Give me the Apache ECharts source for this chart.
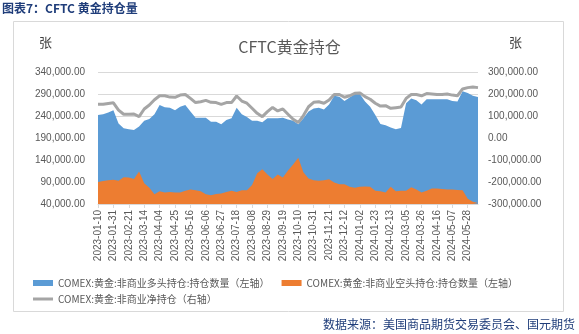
<!DOCTYPE html>
<html>
<head>
<meta charset="utf-8">
<script src="https://cdn.jsdelivr.net/npm/echarts@6/dist/echarts.min.js"></script>
<style>
html,body{margin:0;padding:0;background:#fff;}
#c{width:579px;height:334px;}
</style>
</head>
<body>
<div id="c"></div>
<script>
var dates = [
'2023-01-10','2023-01-17','2023-01-24','2023-01-31','2023-02-07','2023-02-14','2023-02-21','2023-02-28',
'2023-03-07','2023-03-14','2023-03-21','2023-03-28','2023-04-04','2023-04-11','2023-04-18','2023-04-25',
'2023-05-02','2023-05-09','2023-05-16','2023-05-23','2023-05-30','2023-06-06','2023-06-13','2023-06-20',
'2023-06-27','2023-07-04','2023-07-11','2023-07-18','2023-07-25','2023-08-01','2023-08-08','2023-08-15',
'2023-08-22','2023-08-29','2023-09-05','2023-09-12','2023-09-19','2023-09-26','2023-10-03','2023-10-10',
'2023-10-17','2023-10-24','2023-10-31','2023-11-07','2023-11-14','2023-11-21','2023-11-28','2023-12-05',
'2023-12-12','2023-12-19','2023-12-26','2024-01-02','2024-01-09','2024-01-16','2024-01-23','2024-01-30',
'2024-02-06','2024-02-13','2024-02-20','2024-02-27','2024-03-05','2024-03-12','2024-03-19','2024-03-26',
'2024-04-02','2024-04-09','2024-04-16','2024-04-23','2024-04-30','2024-05-07','2024-05-14','2024-05-21',
'2024-05-28','2024-06-04','2024-06-11'];

var longPos = [
242000,244000,248000,253000,223000,212000,210000,208000,216000,229000,
233000,244000,265000,260000,259000,253000,261000,265000,250000,236000,
236000,236000,227000,227000,221000,231000,235000,259000,244000,238000,
229000,229000,226000,235000,235000,235000,236000,232000,229000,221000,
235000,250000,257000,259000,255000,266000,286000,284000,274000,282000,
290000,290000,273000,261000,242000,222000,219000,214000,210000,213000,
269000,280000,276000,266000,278000,278000,278000,278000,278000,274000,
273000,296000,292000,286000,283000];

var shortPos = [
90000,92000,94000,95000,93000,101000,100000,97000,114000,87000,
77000,62000,69000,66000,67000,66000,66000,70000,73000,71000,
69000,62000,60000,63000,64000,67000,70000,67000,71000,71000,
83000,110000,119000,107000,97000,107000,100000,116000,130000,145000,
112000,98000,94000,93000,94000,96000,89000,85000,85000,79000,
77000,79000,80000,79000,70000,69000,66000,79000,69000,70000,
70000,78000,73000,66000,70000,75000,75000,74000,73000,73000,
72000,71000,52000,45000,42000];

var netPos = [
153000,153000,157000,160000,127000,108000,108000,109000,97000,132000,
150000,174000,192000,192000,186000,185000,195000,198000,180000,161000,
165000,171000,162000,161000,153000,161000,161000,191000,168000,158000,
135000,112000,97000,120000,139000,123000,132000,108000,85000,70000,
102000,142000,162000,165000,158000,173000,198000,198000,185000,192000,
203000,205000,188000,176000,158000,145000,147000,135000,138000,141000,
180000,198000,198000,192000,202000,200000,198000,198000,200000,195000,
192000,223000,229000,232000,229000];

var leftTicks = [40000, 340000, 50000];   // min, max, step
var rightTicks = [-300000, 300000, 100000];

var seriesNames = [
'COMEX:黄金:非商业多头持仓:持仓数量（左轴）',
'COMEX:黄金:非商业空头持仓:持仓数量（左轴）',
'COMEX:黄金:非商业净持仓（右轴）'];

function fmt(v){
  var neg = v < 0; v = Math.abs(Math.round(v));
  var s = String(v).replace(/\B(?=(\d{3})+(?!\d))/g, ',');
  return (neg ? '-' : '') + s + '.00';
}

var BASE = leftTicks[0];
var shift = function(arr){ return arr.map(function(v){ return v - BASE; }); };

var chart = echarts.init(document.getElementById('c'), null, {renderer:'canvas'});
var latin = '"Liberation Sans", Arial, "Noto Sans CJK SC", sans-serif';
var cjk = '"Noto Sans CJK SC", "Liberation Sans", sans-serif';

chart.setOption({
  backgroundColor:'#ffffff',
  animation:false,
  title:{
    text:'CFTC黄金持仓',
    left:'center', top:34,
    textStyle:{fontFamily:cjk, fontSize:16, fontWeight:'normal', color:'#595959'}
  },
  graphic:[
    {type:'rect', shape:{x:13.5, y:21.5, width:550, height:290}, style:{fill:'none', stroke:'#D9D9D9', lineWidth:1}, z:-1},
    {type:'text', left:2, top:2, style:{text:'图表7：CFTC 黄金持仓量', fontFamily:cjk, fontSize:12, fontWeight:'bold', fill:'#1F3D7A'}},
    {type:'text', right:4, top:318, style:{text:'数据来源：美国商品期货交易委员会、国元期货', fontFamily:cjk, fontSize:12, fill:'#1F3D7A'}},
    {type:'text', left:39, top:36, style:{text:'张', fontFamily:cjk, fontSize:13, fill:'#404040'}},
    {type:'text', left:509, top:36, style:{text:'张', fontFamily:cjk, fontSize:13, fill:'#404040'}}
  ],
  legend:[
    {
      left:28, top:273, itemWidth:20, itemHeight:6, itemGap:12,
      textStyle:{fontFamily:cjk, fontSize:10, color:'#595959'},
      data:[{name:seriesNames[0], icon:'rect'},{name:seriesNames[1], icon:'rect'}]
    },
    {
      left:28, top:289, itemWidth:20, itemHeight:3, itemGap:12,
      textStyle:{fontFamily:cjk, fontSize:10, color:'#595959'},
      data:[{name:seriesNames[2], icon:'rect'}]
    }
  ],
  grid:{left:98, right:101, top:72, bottom:130, containLabel:false},
  xAxis:{
    type:'category', data:dates, boundaryGap:false,
    axisLine:{lineStyle:{color:'#D9D9D9'}},
    axisTick:{interval:2, length:4, lineStyle:{color:'#D9D9D9'}},
    axisLabel:{interval:2, rotate:90, margin:6, fontFamily:latin, fontSize:10, color:'#595959'},
    splitLine:{show:false}
  },
  yAxis:[
    {
      type:'value', min:0, max:leftTicks[1]-BASE, interval:leftTicks[2],
      axisLine:{show:false}, axisTick:{show:false},
      axisLabel:{margin:13, fontFamily:latin, fontSize:10, color:'#595959', formatter:function(v){return fmt(v+BASE);}},
      splitLine:{lineStyle:{color:'#D9D9D9', width:1}}
    },
    {
      type:'value', min:rightTicks[0], max:rightTicks[1], interval:rightTicks[2],
      axisLine:{show:false}, axisTick:{show:false},
      axisLabel:{margin:10, fontFamily:latin, fontSize:10, color:'#595959', formatter:function(v){return fmt(v);}},
      splitLine:{show:false}
    }
  ],
  series:[
    {
      name:seriesNames[0], type:'line', yAxisIndex:0, data:shift(longPos),
      showSymbol:false, symbol:'none', lineStyle:{width:0}, itemStyle:{color:'#5B9BD5'},
      areaStyle:{color:'#5B9BD5', opacity:1, origin:'start'}, z:2
    },
    {
      name:seriesNames[1], type:'line', yAxisIndex:0, data:shift(shortPos),
      showSymbol:false, symbol:'none', lineStyle:{width:0}, itemStyle:{color:'#ED7D31'},
      areaStyle:{color:'#ED7D31', opacity:1, origin:'start'}, z:3
    },
    {
      name:seriesNames[2], type:'line', yAxisIndex:1, data:netPos,
      showSymbol:false, symbol:'none', lineStyle:{width:3, color:'#A5A5A5'}, itemStyle:{color:'#A5A5A5'}, z:4
    }
  ]
});
</script>
</body>
</html>
